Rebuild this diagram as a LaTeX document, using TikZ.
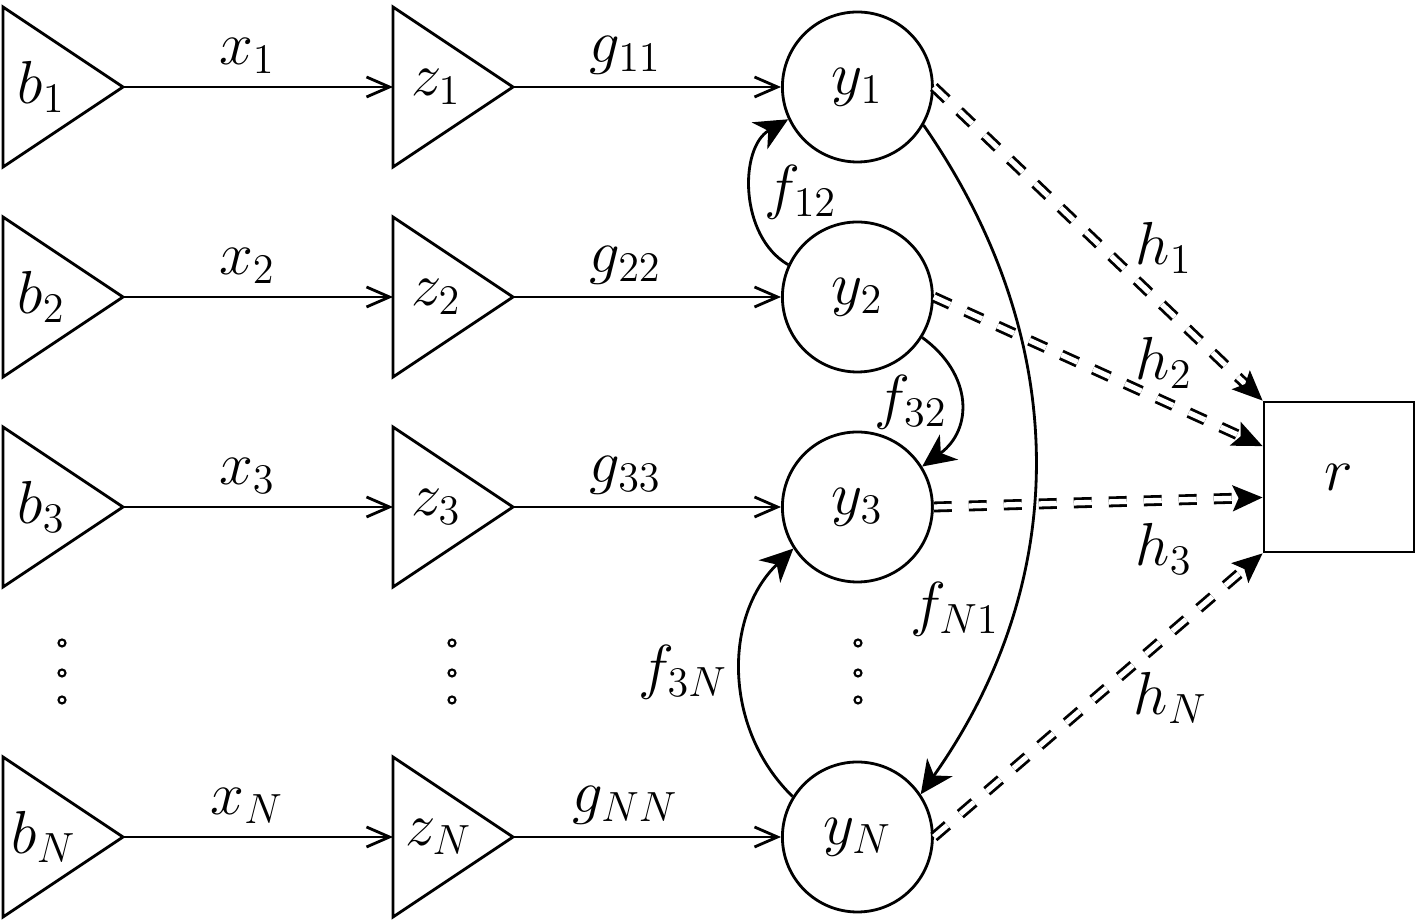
\documentclass[tikz,border=0pt]{standalone}
\usepackage{amsmath}
\usepackage{tikz}
\usetikzlibrary{positioning, arrows.meta, shapes.geometric}

\begin{document}
\begin{tikzpicture}[
        every node/.style = {
            font = \fontsize{18}{21}\selectfont
        },
        amp/.style = {
            draw, thick,
            isosceles triangle,
            isosceles triangle stretches,
            minimum width = 1.6cm,
            minimum height = 1.2cm,
            inner xsep = -1mm,
            inner ysep = -1mm,
            outer sep = 0pt,
            anchor = west
        },
        unit/.style = {
            draw, thick,
            circle,
            minimum size = 1.5cm
        },
        sink/.style = {
            draw, thick,
            rectangle,
            minimum size = 1.5cm
        },
        link/.style = {thick, -{Straight Barb[length=2.3mm, width=2mm]}},
        feedback/.style = {thick, -{Stealth[length=3.3mm, width=3.1mm, inset=1mm]}},
        channel/.style = {
            thick, double, double distance = 1.5pt,
            dash pattern = on 1.8mm off 1.7mm,
            -{Stealth[length=3mm, width=2.6mm, inset=0.6mm]}
        },
        ring/.style = {line width = 0.6pt}
    ]
        \useasboundingbox (0,0) rectangle (14.19,-9.22);

        % sources
        \node[amp] (b1) at (0.03,-0.87) {$b_1$};
        \node[amp] (b2) at (0.03,-2.97) {$b_2$};
        \node[amp] (b3) at (0.03,-5.07) {$b_3$};
        \node[amp] (bN) at (0.03,-8.37) {$b_N$};

        % relays
        \node[amp, right = 2.7cm of b1] (z1) {$z_1$};
        \node[amp, right = 2.7cm of b2] (z2) {$z_2$};
        \node[amp, right = 2.7cm of b3] (z3) {$z_3$};
        \node[amp, right = 2.7cm of bN] (zN) {$z_N$};

        % receivers
        \node[unit, right = 2.68cm of z1] (y1) {$y_1$};
        \node[unit, right = 2.68cm of z2] (y2) {$y_2$};
        \node[unit, right = 2.68cm of z3] (y3) {$y_3$};
        \node[unit, right = 2.68cm of zN] (yN) {$y_N$};

        \node[sink] (r) at (13.39,-4.77) {$r$};

        % vertical dots
        \draw[ring] (0.62,-6.43) circle (0.035) (0.62,-6.73) circle (0.035) (0.62,-7.00) circle (0.035);
        \draw[ring] (4.52,-6.43) circle (0.035) (4.52,-6.73) circle (0.035) (4.52,-7.00) circle (0.035);
        \draw[ring] (8.58,-6.43) circle (0.035) (8.58,-6.73) circle (0.035) (8.58,-7.00) circle (0.035);

        % forward links
        \draw[link] (b1.east) -- node[above, pos=0.46] {$x_1$} (z1.west);
        \draw[link] (b2.east) -- node[above, pos=0.46] {$x_2$} (z2.west);
        \draw[link] (b3.east) -- node[above, pos=0.46] {$x_3$} (z3.west);
        \draw[link] (bN.east) -- node[above, pos=0.46] {$x_N$} (zN.west);

        \draw[link] (z1.east) -- node[above, pos=0.42] {$g_{11}$} (y1.west);
        \draw[link] (z2.east) -- node[above, pos=0.42] {$g_{22}$} (y2.west);
        \draw[link] (z3.east) -- node[above, pos=0.42] {$g_{33}$} (y3.west);
        \draw[link] (zN.east) -- node[above, pos=0.42] {$g_{NN}$} (yN.west);

        % feedback between receivers
        \draw[feedback] (y2.155) to[bend left=60] node[right] {$f_{12}$} (y1.205);
        \draw[feedback] (y2.-32) to[bend left=54, looseness=1.25] node[left] {$f_{32}$} (y3.32);
        \draw[feedback] (y1.-30) to[bend left=35] node[left, pos=0.72] {$f_{N1}$} (yN.34);
        \draw[feedback] (yN.148) to[bend left=46] node[left] {$f_{3N}$} (y3.213);

        % channels to r
        \draw[channel] (y1.east) -- node[above=2mm, pos=0.7] {$h_1$} (r.north west);
        \draw[channel] (y2.east) -- node[above, pos=0.7] {$h_2$} (r.158);
        \draw[channel] (y3.east) -- node[below=1mm, pos=0.7] {$h_3$} (r.195);
        \draw[channel] (yN.east) -- node[below=2.6mm, pos=0.72] {$h_N$} (r.south west);
    \end{tikzpicture}
\end{document}
